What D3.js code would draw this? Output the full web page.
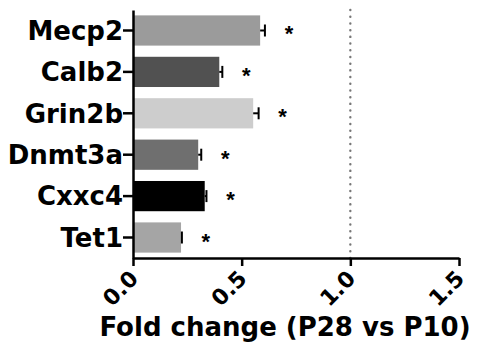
<!DOCTYPE html>
<html>
<head>
<meta charset="utf-8">
<script src="https://cdn.jsdelivr.net/npm/d3@7"></script>
<style>
  body { margin: 0; background: #fff; }
  text { font-family: "DejaVu Sans", Arial, sans-serif; font-weight: bold; }
</style>
</head>
<body>
<div id="chart-area"></div>
<script>
// data
var genes = ['Mecp2', 'Calb2', 'Grin2b', 'Dnmt3a', 'Cxxc4', 'Tet1'];
var foldChange = [0.585, 0.397, 0.553, 0.300, 0.330, 0.221];
var sem = [0.022, 0.014, 0.025, 0.014, 0.008, 0.004];
var barColors = ['#9b9b9b', '#515151', '#cdcdcd', '#6f6f6f', '#000000', '#a5a5a5'];
var xTicks = [0, 0.5, 1.0, 1.5];
var refLine = 1.0;

var margin = { top: 10, right: 18, bottom: 104, left: 133 },
    width = 477 - margin.left - margin.right,
    height = 362 - margin.top - margin.bottom;

var svg = d3.select('#chart-area').append('svg')
    .attr('width', 477)
    .attr('height', 362)
  .append('g')
    .attr('transform', 'translate(' + margin.left + ',' + margin.top + ')');

var x = d3.scaleLinear()
    .domain([0, 1.5])
    .range([0, 326]);

var y = d3.scaleBand()
    .domain(genes)
    .range([0, height])
    .paddingInner(0.27)
    .paddingOuter(0.13);

// dotted reference line
svg.append('line')
  .attr('x1', x(refLine)).attr('x2', x(refLine))
  .attr('y1', 0).attr('y2', height)
  .attr('stroke', '#777')
  .attr('stroke-width', 2.4)
  .attr('stroke-linecap', 'round')
  .attr('stroke-dasharray', '0.1,6.6');

// bars
svg.selectAll('rect.bar')
  .data(genes)
  .enter().append('rect')
    .attr('class', 'bar')
    .attr('x', 0)
    .attr('y', function(d){ return y(d); })
    .attr('width', function(d, i){ return x(foldChange[i]); })
    .attr('height', y.bandwidth())
    .attr('fill', function(d, i){ return barColors[i]; });

// error bars
var err = svg.selectAll('g.err')
  .data(genes)
  .enter().append('g')
    .attr('class', 'err');

err.append('line')
  .attr('x1', function(d, i){ return x(foldChange[i]); })
  .attr('x2', function(d, i){ return x(foldChange[i] + sem[i]); })
  .attr('y1', function(d){ return y(d) + y.bandwidth() / 2; })
  .attr('y2', function(d){ return y(d) + y.bandwidth() / 2; })
  .attr('stroke', '#000')
  .attr('stroke-width', 2);

err.append('line')
  .attr('x1', function(d, i){ return x(foldChange[i] + sem[i]); })
  .attr('x2', function(d, i){ return x(foldChange[i] + sem[i]); })
  .attr('y1', function(d){ return y(d) + y.bandwidth() / 2 - 6; })
  .attr('y2', function(d){ return y(d) + y.bandwidth() / 2 + 6; })
  .attr('stroke', '#000')
  .attr('stroke-width', 2);

// asterisks
svg.selectAll('text.star')
  .data(genes)
  .enter().append('text')
    .attr('class', 'star')
    .attr('x', function(d, i){ return x(foldChange[i] + sem[i]) + 24; })
    .attr('y', function(d){ return y(d) + y.bandwidth() / 2 + 11; })
    .attr('text-anchor', 'middle')
    .attr('font-size', '22px')
    .style('font-family', '"Liberation Sans", Arial, sans-serif')
    .text('*');

// x axis
var xAxis = svg.append('g')
  .attr('class', 'x-axis')
  .attr('transform', 'translate(0,' + height + ')')
  .call(d3.axisBottom(x).tickValues(xTicks).tickSize(8).tickSizeOuter(0)
    .tickFormat(d3.format('.1f')));

xAxis.select('.domain').attr('stroke-width', 2.5).attr('stroke', '#000');
xAxis.selectAll('.tick line').attr('stroke-width', 2.5).attr('stroke', '#000');
xAxis.selectAll('.tick text')
  .attr('font-size', '22px')
  .attr('fill', '#000')
  .attr('text-anchor', 'end')
  .attr('dy', null)
  .attr('y', 0)
  .attr('transform', 'translate(6,22) rotate(-45)');

// y axis
var yAxis = svg.append('g')
  .attr('class', 'y-axis')
  .call(d3.axisLeft(y).tickSize(10).tickSizeOuter(0));

yAxis.select('.domain').attr('stroke-width', 2.5).attr('stroke', '#000');
yAxis.selectAll('.tick line').attr('stroke-width', 2.5).attr('stroke', '#000');
yAxis.selectAll('.tick text')
  .attr('font-size', '26px')
  .attr('fill', '#000')
  .attr('x', -10)
  .attr('dy', '0.36em');

// x label
svg.append('text')
  .attr('x', 285 - margin.left)
  .attr('y', height + 78)
  .attr('font-size', '26px')
  .attr('text-anchor', 'middle')
  .text('Fold change (P28 vs P10)');
</script>
</body>
</html>
